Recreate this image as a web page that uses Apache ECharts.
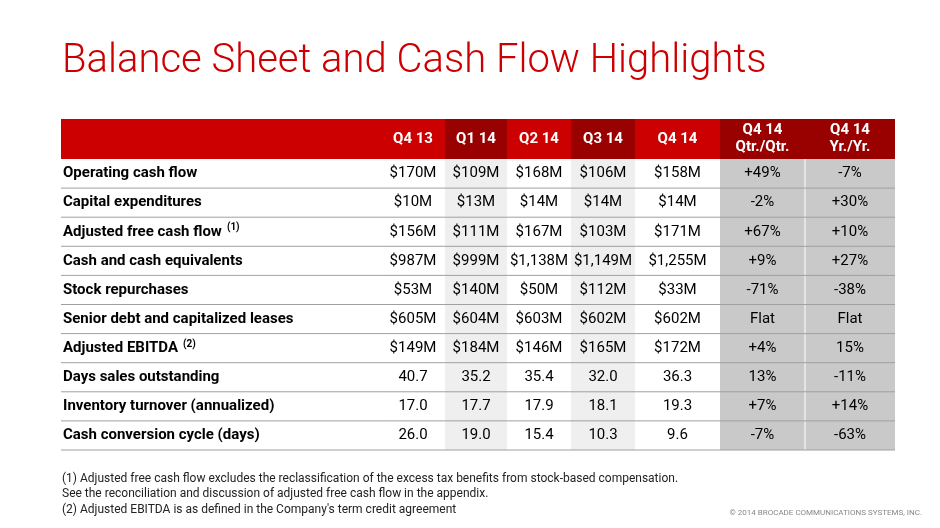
<!DOCTYPE html><html><head><meta charset="utf-8">
<script src="https://cdn.jsdelivr.net/npm/echarts@6/dist/echarts.min.js"></script>
<style>html,body{margin:0;padding:0;background:#fff}#c{width:940px;height:528px}</style></head><body><div id="c"></div>
<script>
const headers=["Q4 13","Q1 14","Q2 14","Q3 14","Q4 14","Q4 14\nQtr./Qtr.","Q4 14\nYr./Yr."];
const rowLabels=["Operating cash flow","Capital expenditures","Adjusted free cash flow","Cash and cash equivalents","Stock repurchases","Senior debt and capitalized leases","Adjusted EBITDA","Days sales outstanding","Inventory turnover (annualized)","Cash conversion cycle (days)"];
const rowNotes=["","","(1)","","","","(2)","","",""];
const q413=["$170M","$10M","$156M","$987M","$53M","$605M","$149M","40.7","17.0","26.0"];
const q114=["$109M","$13M","$111M","$999M","$140M","$604M","$184M","35.2","17.7","19.0"];
const q214=["$168M","$14M","$167M","$1,138M","$50M","$603M","$146M","35.4","17.9","15.4"];
const q314=["$106M","$14M","$103M","$1,149M","$112M","$602M","$165M","32.0","18.1","10.3"];
const q414=["$158M","$14M","$171M","$1,255M","$33M","$602M","$172M","36.3","19.3","9.6"];
const qoq=["+49%","-2%","+67%","+9%","-71%","Flat","+4%","13%","+7%","-7%"];
const yoy=["-7%","+30%","+10%","+27%","-38%","Flat","15%","-11%","+14%","-63%"];
(function(){
const cols=[q413,q114,q214,q314,q414,qoq,yoy];
const colEdges=[381,445,507,571,635,720,805,895];
const L=61, T=119, headH=40, rowH=29.1;
const headFill=["#cc0000","#990000","#cc0000","#990000","#cc0000","#990000","#990000"];
const bodyFill=["#ffffff","#efefef","#ffffff","#efefef","#ffffff","#c9c9c9","#c9c9c9"];
const F="Roboto, 'Liberation Sans', sans-serif";
const ctx=document.createElement('canvas').getContext('2d');
const g=[];
g.push({type:'text',left:62,top:42,style:{text:"Balance Sheet and Cash Flow Highlights",font:"300 40px "+F,fill:"#cc0000"}});
g.push({type:'rect',shape:{x:L,y:T,width:colEdges[0]-L,height:headH},style:{fill:"#cc0000"}});
headers.forEach((h,i)=>{const x0=colEdges[i],w=colEdges[i+1]-x0;
 g.push({type:'rect',shape:{x:x0,y:T,width:w,height:headH},style:{fill:headFill[i]}});
 g.push({type:'text',x:x0+w/2,y:T+headH/2,style:{text:h,font:"bold 15px "+F,fill:"#fff",align:'center',verticalAlign:'middle',lineHeight:17}});
 g.push({type:'rect',shape:{x:x0,y:T+headH,width:w,height:rowH*rowLabels.length},style:{fill:bodyFill[i]}});
});
g.push({type:'line',shape:{x1:colEdges[6],y1:T+headH,x2:colEdges[6],y2:T+headH+rowH*10},style:{stroke:'#fff',lineWidth:1}});
const LF="bold 15px "+F;
ctx.font=LF;
rowLabels.forEach((l,r)=>{const yc=T+headH+rowH*(r+0.5);
 g.push({type:'text',x:L+2,y:yc,style:{text:l,font:LF,fill:"#000",verticalAlign:'middle'}});
 if(rowNotes[r]){g.push({type:'text',x:L+2+ctx.measureText(l).width+5,y:yc-4,style:{text:rowNotes[r],font:"bold 10px "+F,fill:"#000",verticalAlign:'middle'}});}
 cols.forEach((c,i)=>{const x0=colEdges[i],w=colEdges[i+1]-x0;
  g.push({type:'text',x:x0+w/2,y:yc,style:{text:c[r],font:"15px "+F,fill:"#000",align:'center',verticalAlign:'middle'}});});
 g.push({type:'line',shape:{x1:L,y1:T+headH+rowH*(r+1),x2:colEdges[7],y2:T+headH+rowH*(r+1)},style:{stroke:'#a0a0a0',lineWidth:1}});
});
g.push({type:'text',left:62,top:471,style:{text:"(1) Adjusted free cash flow excludes the reclassification of the excess tax benefits from stock-based compensation.\nSee the reconciliation and discussion of adjusted free cash flow in the appendix.",font:"12px "+F,fill:"#222",lineHeight:15}});
g.push({type:'text',left:62,top:504,style:{text:"(2) Adjusted EBITDA is as defined in the Company's term credit agreement",font:"12px 'Liberation Sans Narrow', "+F,fill:"#222"}});
g.push({type:'text',right:18,top:509,style:{text:"© 2014 BROCADE COMMUNICATIONS SYSTEMS, INC.",font:"8px "+F,fill:"#888"}});
const chart=echarts.init(document.getElementById('c'));
chart.setOption({animation:false,graphic:g});
})();
</script></body></html>
